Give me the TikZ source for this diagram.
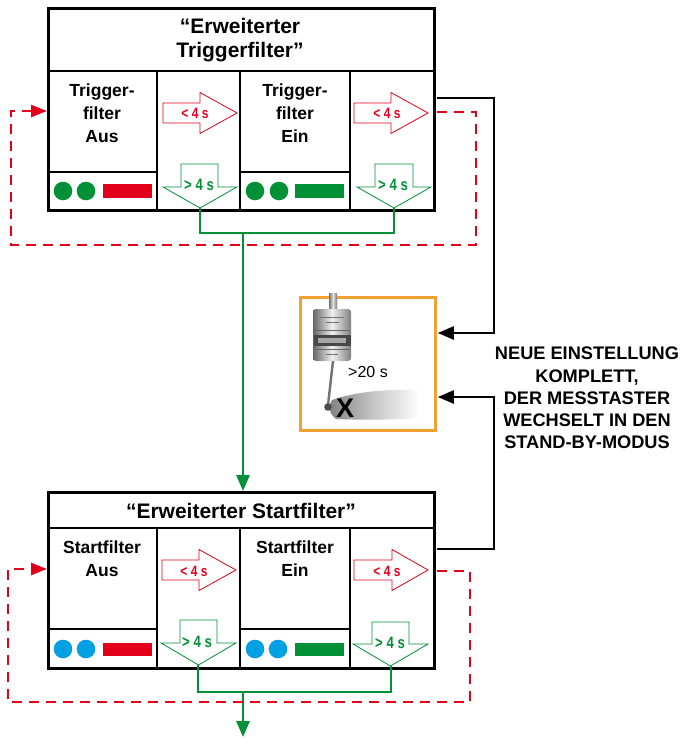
\documentclass[tikz,border=0pt]{standalone}
\usepackage{fontspec}
\setmainfont{Liberation Sans}
\newfontfamily\condfont[FakeStretch=0.8]{Liberation Sans}
\usetikzlibrary{arrows.meta,calc}

\definecolor{fred}{RGB}{226,0,26}
\definecolor{fgreen}{RGB}{0,145,54}
\definecolor{fblue}{RGB}{0,160,227}
\definecolor{forange}{RGB}{242,160,50}

% outlined right-pointing arrow: tail x, head base x, tip x, centre y
\newcommand\redarrowshape[4]{%
  \draw[redarr] (#1,#4-10) -- (#2,#4-10) -- (#2,#4-20.5) -- (#3,#4)
    -- (#2,#4+20.5) -- (#2,#4+10) -- (#1,#4+10) -- cycle;}
% outlined down-pointing arrow: shaft left, shaft right, head left, head right, top y, head y, tip y
\newcommand\greenarrowshape[7]{%
  \draw[greenarr] (#1,#5) -- (#2,#5) -- (#2,#6) -- (#4,#6) -- ({(#3+#4)/2},#7)
    -- (#3,#6) -- (#1,#6) -- cycle;}

\tikzset{
  frame/.style={draw, line width=2.8pt, inner sep=0pt, anchor=north west},
  cell/.style={line width=1.2pt},
  redarr/.style={draw=fred, line width=0.8pt, fill=white},
  greenarr/.style={draw=fgreen, line width=0.8pt, fill=white},
  flow/.style={fgreen, line width=2.8pt},
  loop/.style={fred, line width=2.5pt, dash pattern=on 10pt off 7pt},
  link/.style={black, line width=2.3pt},
  titletext/.style={font=\fontsize{21}{24.5}\selectfont\bfseries, align=center, inner sep=0pt},
  celltext/.style={font=\fontsize{17.5}{23}\selectfont\bfseries, align=center, inner sep=0pt},
  redlbl/.style={text=fred, font=\condfont\bfseries\fontsize{15}{15}\selectfont, inner sep=0pt},
  greenlbl/.style={text=fgreen, font=\condfont\bfseries\fontsize{16.5}{17}\selectfont, inner sep=0pt},
  notetext/.style={font=\fontsize{18.2}{22.2}\selectfont\bfseries, align=center, inner sep=0pt},
  lamp/.style={radius=9.3pt},
}

\begin{document}
\begin{tikzpicture}[x=1pt,y=-1pt]
\useasboundingbox (0,0) rectangle (681,738);

% ---------------- block "Erweiterter Triggerfilter" ----------------
\node[frame, minimum width=386pt, minimum height=202pt] (trig) at (47,7) {};
\draw[cell] (47,71) -- (433,71);
\draw[cell] (157,71) -- (157,209) (240,71) -- (240,209) (350,71) -- (350,209);
\draw[cell] (47,172) -- (157,172) (240,172) -- (350,172);

\node[titletext] (trigtitle) at (240,40) {“Erweiterter\\Triggerfilter”};
\node[celltext] (trigoff) at (102,113) {Trigger-\\filter\\Aus};
\node[celltext] (trigon) at (295,113) {Trigger-\\filter\\Ein};

\redarrowshape{163}{200}{237}{113}
\node[redlbl] (trigr1) at (195,113.5) {< 4 s};
\redarrowshape{354}{391}{428}{113}
\node[redlbl] (trigr2) at (387,113.5) {< 4 s};

\greenarrowshape{181}{218}{163}{237}{164}{187}{208}
\node[greenlbl] (trigg1) at (199,185) {> 4 s};
\greenarrowshape{375}{413}{357}{431}{164}{187}{208}
\node[greenlbl] (trigg2) at (393,185) {> 4 s};
\coordinate (tg1) at (200,208);
\coordinate (tg2) at (394,208);

\fill[fgreen] (63,191) circle[lamp] (86,191) circle[lamp];
\fill[fred] (103,184) rectangle (152,197.5);
\fill[fgreen] (255,191) circle[lamp] (279,191) circle[lamp];
\fill[fgreen] (295,184) rectangle (344,197.5);

% ---------------- block "Erweiterter Startfilter" ----------------
\node[frame, minimum width=386pt, minimum height=176pt] (start) at (47,491) {};
\draw[cell] (47,528) -- (433,528);
\draw[cell] (157,528) -- (157,667) (240,528) -- (240,667) (350,528) -- (350,667);
\draw[cell] (47,629) -- (157,629) (240,629) -- (350,629);

\node[titletext] (starttitle) at (241,511) {“Erweiterter Startfilter”};
\node[celltext] (startoff) at (102,559) {Startfilter\\Aus};
\node[celltext] (starton) at (295,559) {Startfilter\\Ein};

\redarrowshape{162}{199}{236}{570}
\node[redlbl] (startr1) at (194,571) {< 4 s};
\redarrowshape{354}{392}{428}{570}
\node[redlbl] (startr2) at (387,571) {< 4 s};

\greenarrowshape{180}{217}{161}{236}{620}{643}{665}
\node[greenlbl] (startg1) at (197,642) {> 4 s};
\greenarrowshape{372}{409}{353}{428}{622}{644}{666}
\node[greenlbl] (startg2) at (390,643) {> 4 s};
\coordinate (sg1) at (198,665);
\coordinate (sg2) at (391,666);

\fill[fblue] (63,649) circle[lamp] (86,649) circle[lamp];
\fill[fred] (103,643) rectangle (152,656);
\fill[fblue] (255,649) circle[lamp] (278,649) circle[lamp];
\fill[fgreen] (295,643) rectangle (344,656);

% ---------------- probe picture ----------------
\node[draw=forange, line width=2.5pt, minimum width=135pt, minimum height=133pt,
      inner sep=0pt, anchor=north west, fill=white] (probe) at (299,296) {};
\begin{scope}
  % hand
  \shade[left color=black!50, right color=white, middle color=black!22]
    (332,400) .. controls (355,392) and (385,389) .. (418,390)
    -- (420,418) .. controls (390,420) and (360,420) .. (336,419)
    .. controls (329,414) and (328,405) .. cycle;
  % stem and probe body
  \shade[left color=black!55, right color=black!55, middle color=black!10]
    (329,293) rectangle (337,310);
  \shade[left color=black!60, right color=black!50, middle color=black!6]
    (313,313) .. controls (313,310) .. (316,309) -- (348,309) .. controls (351,310) .. (351,313)
    -- (351,357) .. controls (351,360) .. (348,361) -- (316,361) .. controls (313,360) .. (313,357) -- cycle;
  \fill[black!72] (313.5,335) rectangle (350.5,346);
  \fill[black!35] (318,338) rectangle (346,343);
  \draw[black!60, line width=0.6pt] (314,330) -- (350,330) (314,349) -- (350,349);
  \draw[black!55, line width=0.7pt] (320,317) -- (344,317) (326,322) -- (339,322) (326,354) -- (338,354);
  % stylus and tip
  \draw[black!55, line width=2.4pt] (333,361) -- (328,405);
  \fill[black!70] (328,407) circle[radius=3.8pt];
\end{scope}
\node[font=\fontsize{27}{27}\selectfont\bfseries, inner sep=0pt] (cross) at (345,408) {X};
\node[font=\fontsize{16}{16}\selectfont, inner sep=0pt] (timer) at (368,372) {>20 s};

\node[notetext] (note) at (587,398)
  {NEUE EINSTELLUNG\\KOMPLETT,\\DER MESSTASTER\\WECHSELT IN DEN\\STAND-BY-MODUS};

% ---------------- connectors ----------------
% green: both "> 4 s" exits join and lead to the next block
\draw[flow] (tg1) -- ++(0,25) -| (tg2);
\coordinate (tj) at (243,233);
\draw[flow, -{Triangle[length=16pt,width=13pt]}] (tj) -- (tj |- start.north);
\draw[flow] (sg1) -- ++(0,27) -| (sg2);
\coordinate (sj) at (243,692);
\coordinate (out) at (243,737);
\draw[flow, -{Triangle[length=16pt,width=13pt]}] (sj) -- (out);

% red dashed return loops
\draw[loop, -{Triangle[length=16pt,width=12pt]}]
  ([xshift=1.5pt]trig.east |- 0,112) -- (476,112) -- (476,245) -- (11,245) -- (11,111)
  -- (trig.west |- 0,111);
\draw[loop, -{Triangle[length=16pt,width=12pt]}]
  ([xshift=1.5pt]start.east |- 0,571) -- (470,571) -- (470,702) -- (8,702) -- (8,569)
  -- (start.west |- 0,569);

% black links to the stand-by picture
\draw[link, -{Triangle[length=16pt,width=13pt]}]
  ([xshift=1.3pt]trig.east |- 0,98) -- (494,98) -- (494,333) -- ([xshift=1.3pt]probe.east |- 0,333);
\draw[link, -{Triangle[length=16pt,width=13pt]}]
  ([xshift=1.3pt]start.east |- 0,549) -- (494,549) -- (494,397) -- ([xshift=1.3pt]probe.east |- 0,397);
\end{tikzpicture}
\end{document}
